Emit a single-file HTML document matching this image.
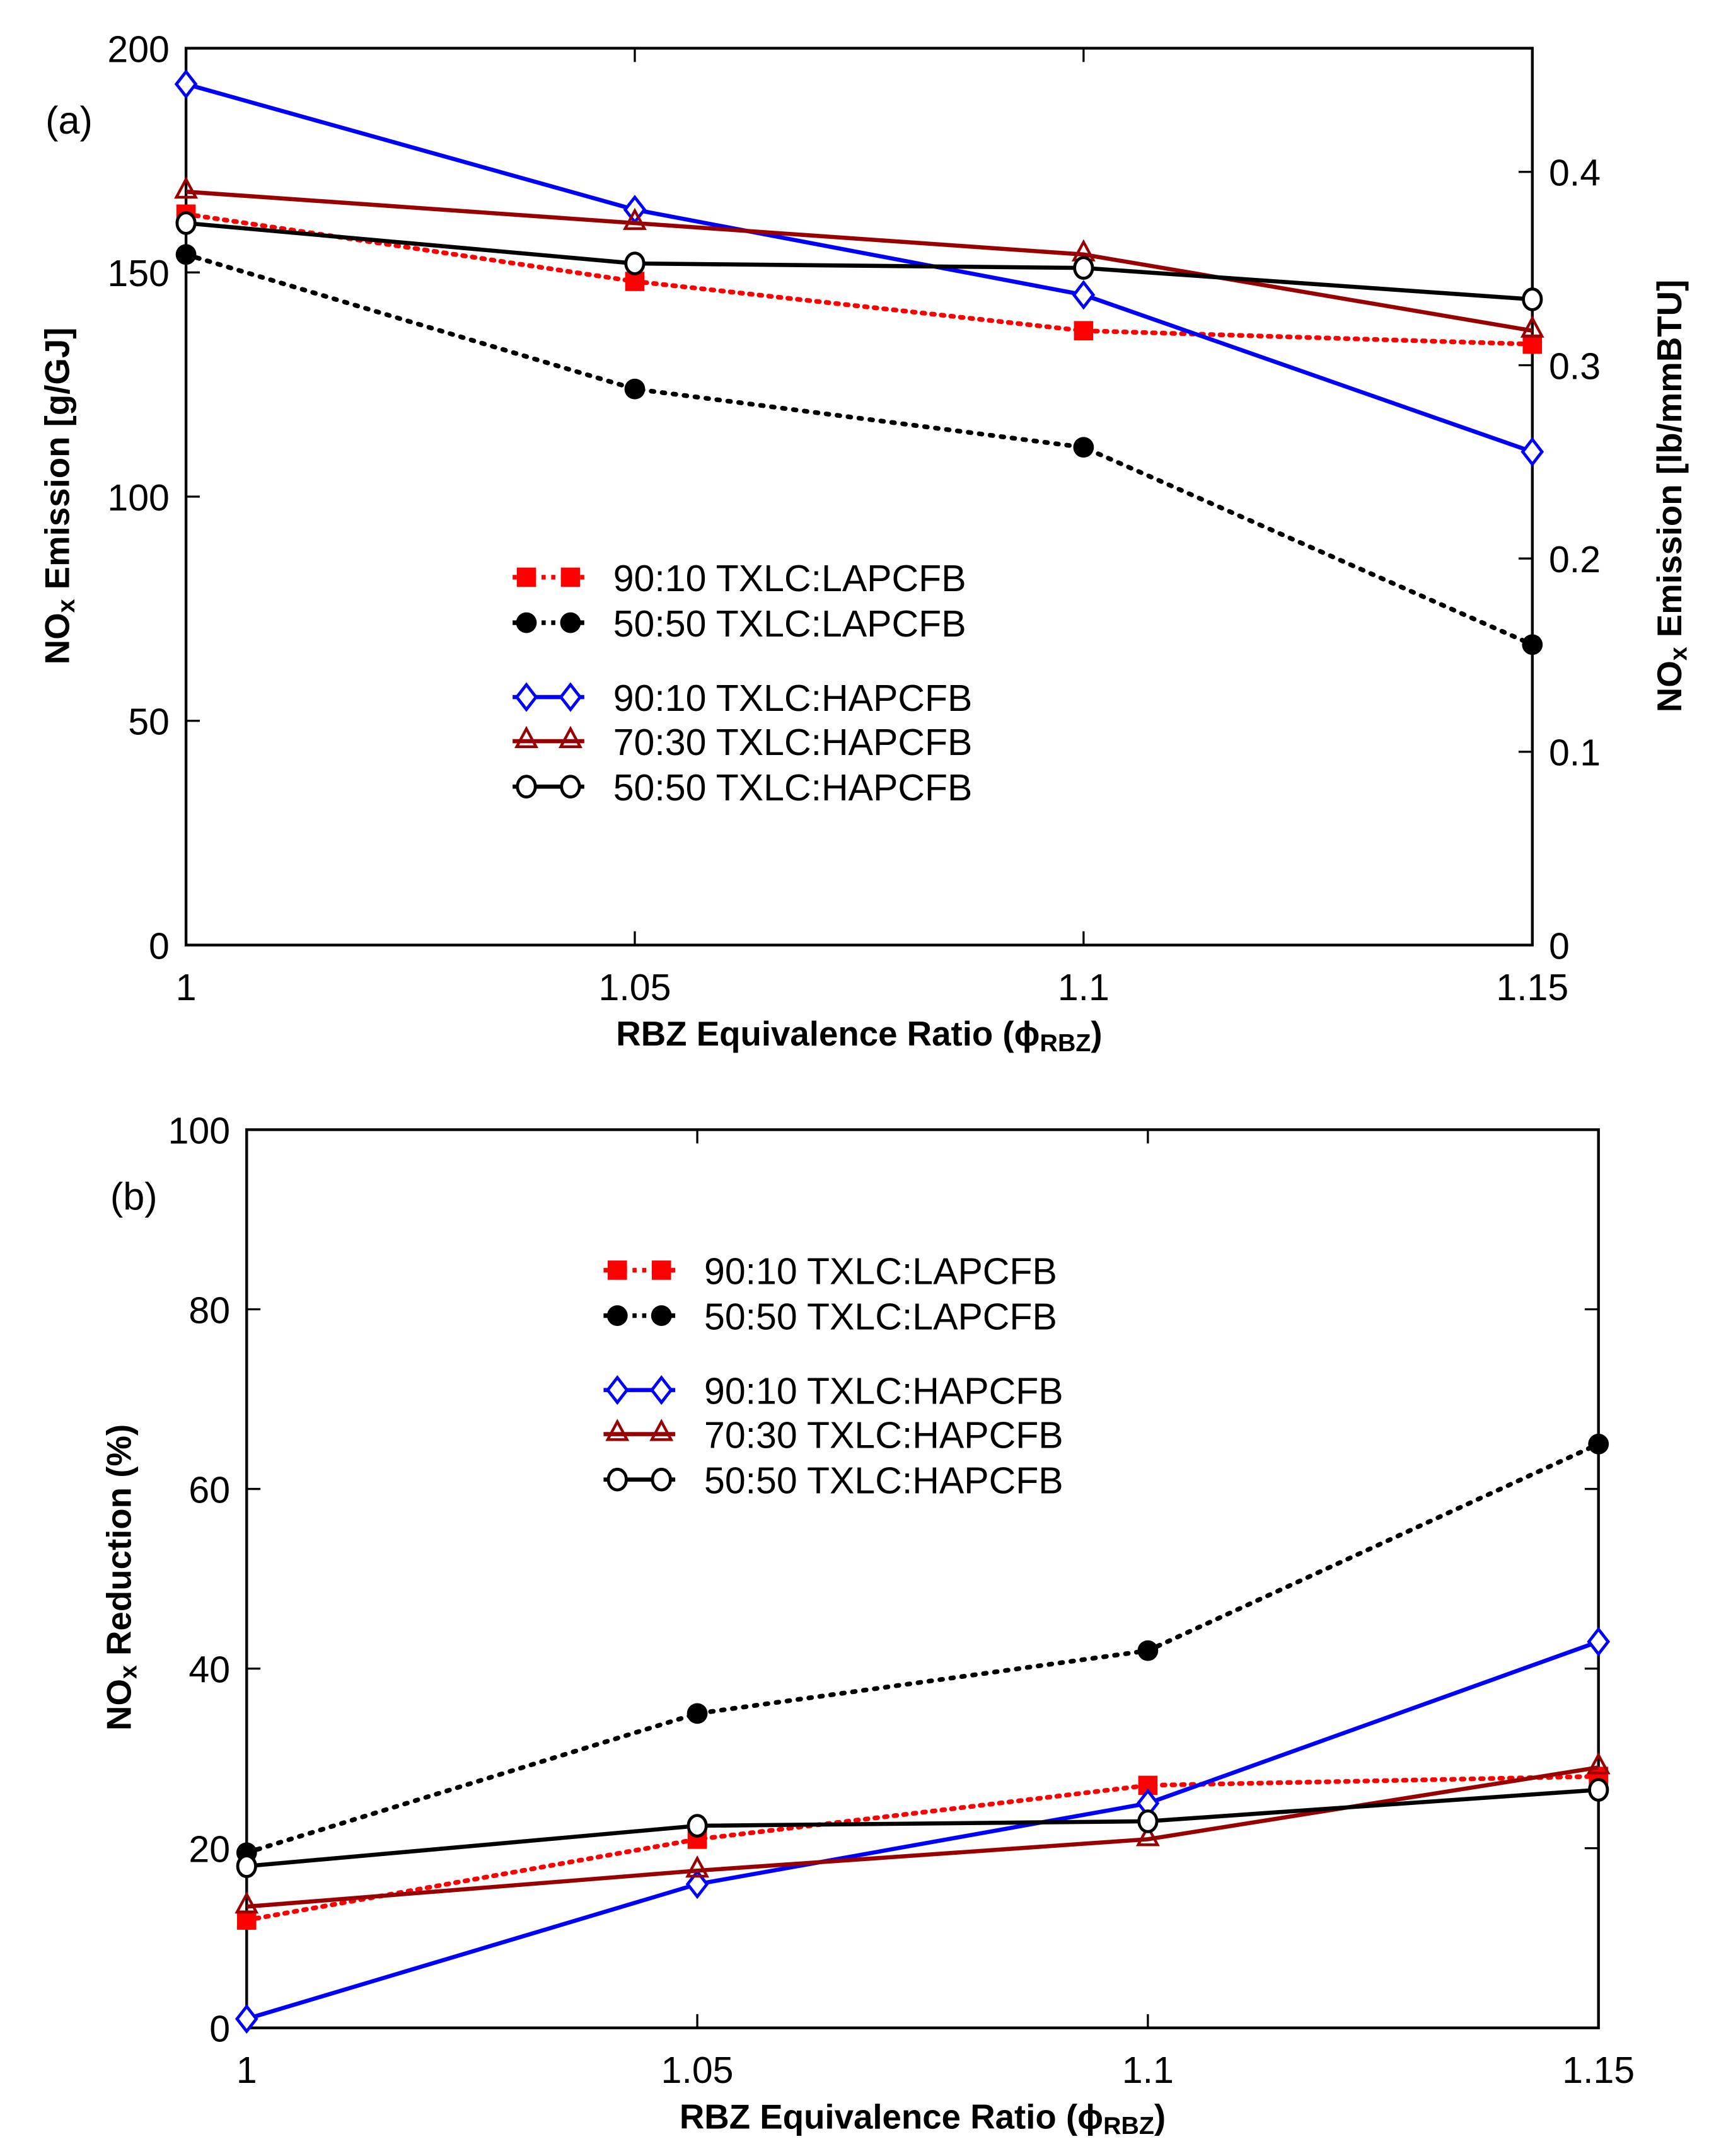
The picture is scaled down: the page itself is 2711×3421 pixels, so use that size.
<!DOCTYPE html>
<html><head><meta charset="utf-8"><style>
html,body{margin:0;padding:0;background:#fff}
svg{display:block}
text{font-family:"Liberation Sans",sans-serif;fill:#000}
</style></head><body>
<svg id="chart" width="2711" height="3421" viewBox="0 0 1240.2 1565" xmlns="http://www.w3.org/2000/svg"></svg>
<script>
const xCats = [1, 1.05, 1.1, 1.15];
const xTickLabels = ["1", "1.05", "1.1", "1.15"];
const seriesNames = ["90:10 TXLC:LAPCFB","50:50 TXLC:LAPCFB","90:10 TXLC:HAPCFB","70:30 TXLC:HAPCFB","50:50 TXLC:HAPCFB"];
const aRedLap = [163, 148, 137, 134];
const aBlackLap = [154, 124, 111, 67];
const aBlueHap = [192, 164, 145, 110];
const aDarkHap = [168, 161, 154, 137];
const aOpenHap = [161, 152, 151, 144];
const bRedLap = [12, 21, 27, 28];
const bBlackLap = [19.5, 35, 42, 65];
const bBlueHap = [1, 16, 25, 43];
const bDarkHap = [13.5, 17.5, 21, 29];
const bOpenHap = [18, 22.5, 23, 26.5];
const aYTicks = [0, 50, 100, 150, 200];
const aY2Ticks = [0, 0.1, 0.2, 0.3, 0.4];
const bYTicks = [0, 20, 40, 60, 80, 100];

const NS = "http://www.w3.org/2000/svg";
const svg = document.getElementById("chart");
function el(tag, attrs, parent) {
  const e = document.createElementNS(NS, tag);
  for (const k in attrs) e.setAttribute(k, attrs[k]);
  (parent || svg).appendChild(e);
  return e;
}
const styles = [
  {color:"#ff0000", dash:"2,5", marker:"square"},
  {color:"#000000", dash:"2,6", marker:"dot"},
  {color:"#0000ff", dash:"", marker:"diamond"},
  {color:"#990000", dash:"", marker:"triangle"},
  {color:"#000000", dash:"", marker:"circle"}
];
function marker(g, type, x, y, color) {
  let m;
  if (type === "square") m = el("rect", {x:x-7, y:y-7, width:14, height:14, fill:color}, g);
  else if (type === "dot") m = el("circle", {cx:x, cy:y, r:7.5, fill:color}, g);
  else if (type === "diamond") m = el("polygon", {points:`${x},${y-9} ${x+7},${y} ${x},${y+9} ${x-7},${y}`, fill:"#fff", stroke:color, "stroke-width":2.2}, g);
  else if (type === "triangle") m = el("polygon", {points:`${x},${y-9} ${x+7},${y+4} ${x-7},${y+4}`, fill:"none", stroke:color, "stroke-width":2}, g);
  else m = el("ellipse", {cx:x, cy:y, rx:6.5, ry:7.5, fill:"#fff", stroke:color, "stroke-width":2.2}, g);
  
  
}
function panel(cfg) {
  const {L, R, T, B, ymax, yTicks, series, tag, legX, legY, prefix} = cfg;
  const g = el("g", {});
  
  
  const xs = v => L + (v - 1) / 0.15 * (R - L);
  const ys = v => B - v / ymax * (B - T);
  const frame = el("rect", {x:L, y:T, width:R-L, height:B-T, fill:"none", stroke:"#000", "stroke-width":2}, g);
  
  
  xCats.forEach((c, i) => {
    const x = xs(c);
    el("line", {x1:x, y1:B, x2:x, y2:B-10, stroke:"#000", "stroke-width":1.5}, g);
    el("line", {x1:x, y1:T, x2:x, y2:T+10, stroke:"#000", "stroke-width":1.5}, g);
    const t = el("text", {x:x, y:B+40, "text-anchor":"middle", "font-size":27}, g);
    t.textContent = xTickLabels[i];
    
    
  });
  yTicks.forEach(v => {
    const y = ys(v);
    el("line", {x1:L, y1:y, x2:L+10, y2:y, stroke:"#000", "stroke-width":1.5}, g);
    if (!cfg.y2) el("line", {x1:R, y1:y, x2:R-10, y2:y, stroke:"#000", "stroke-width":1.5}, g);
    const t = el("text", {x:L-12, y:y+10, "text-anchor":"end", "font-size":27}, g);
    t.textContent = String(v);
    
    
  });
  if (cfg.y2) {
    cfg.y2.forEach(v => {
      const y = B - v / cfg.y2max * (B - T);
      el("line", {x1:R, y1:y, x2:R-10, y2:y, stroke:"#000", "stroke-width":1.5}, g);
      const t = el("text", {x:R+12, y:y+10, "text-anchor":"start", "font-size":27}, g);
      t.textContent = String(v);
      
      
    });
  }
  series.forEach((vals, si) => {
    const st = styles[si];
    const pts = vals.map((v, i) => `${xs(xCats[i])},${ys(v)}`).join(" ");
    const pl = el("polyline", {points:pts, fill:"none", stroke:st.color, "stroke-width":st.dash ? 3.4 : 3, "stroke-dasharray":st.dash, "stroke-linecap": st.dash ? "round" : "butt"}, g);
    
    
    vals.forEach((v, i) => marker(g, st.marker, xs(xCats[i]), ys(v), st.color));
  });
  const rows = [0, 33, 87, 119, 152];
  const lg = el("g", {}, g);
  
  
  rows.forEach((dy, si) => {
    const st = styles[si];
    const y = legY + dy;
    el("line", {x1:legX, y1:y, x2:legX+52, y2:y, stroke:st.color, "stroke-width":st.dash?3.4:3, "stroke-dasharray":st.dash?"3,4":""}, lg);
    marker(lg, st.marker, legX+10, y, st.color);
    marker(lg, st.marker, legX+42, y, st.color);
    const t = el("text", {x:legX+73, y:y+10, "font-size":27}, lg);
    t.textContent = seriesNames[si];
    
    
  });
  const tg = el("text", {x:cfg.tagX, y:cfg.tagY, "font-size":28}, g);
  tg.textContent = tag;
  
  
  const xt = el("text", {x:(L+R)/2, y:B+73, "text-anchor":"middle", "font-size":25, "font-weight":"bold"}, g);
  xt.innerHTML = 'RBZ Equivalence Ratio (ϕ<tspan font-size="18" dy="4">RBZ</tspan><tspan dy="-4">)</tspan>';
  
  
  return g;
}
panel({prefix:"a", L:135, R:1112, T:35, B:686, ymax:200, yTicks:aYTicks, y2:aY2Ticks, y2max:0.464,
  series:[aRedLap, aBlackLap, aBlueHap, aDarkHap, aOpenHap], tag:"(a)", tagX:33, tagY:97, legX:372, legY:419});
panel({prefix:"b", L:179, R:1160, T:820, B:1472, ymax:100, yTicks:bYTicks,
  series:[bRedLap, bBlackLap, bBlueHap, bDarkHap, bOpenHap], tag:"(b)", tagX:80, tagY:878, legX:438, legY:922});
function ytitle(x, y, html, name) {
  const t = el("text", {x:x, y:y, "text-anchor":"middle", "font-size":25, "font-weight":"bold", transform:`rotate(-90 ${x} ${y})`});
  t.innerHTML = html;
  
  
}
ytitle(50, 360, 'NO<tspan font-size="18" dy="4">x</tspan><tspan dy="-4"> Emission [g/GJ]</tspan>', 'a-y-axis-title');
ytitle(1220, 360, 'NO<tspan font-size="18" dy="4">x</tspan><tspan dy="-4"> Emission [lb/mmBTU]</tspan>', 'a-y2-axis-title');
ytitle(95, 1145, 'NO<tspan font-size="18" dy="4">x</tspan><tspan dy="-4"> Reduction (%)</tspan>', 'b-y-axis-title');
</script>
</body></html>
